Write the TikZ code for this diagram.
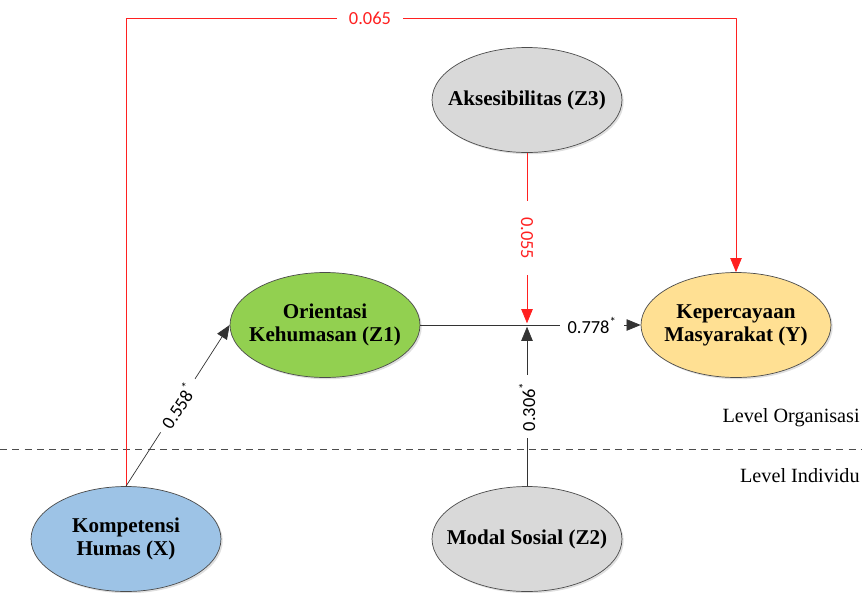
\documentclass[tikz,border=0pt]{standalone}
\usepackage{fontspec}
\setmainfont{Liberation Serif}
\newfontfamily\coeffont{Carlito}
\usetikzlibrary{shapes.geometric,arrows.meta,shadows}

\definecolor{zgray}{HTML}{D9D9D9}
\definecolor{zgreen}{HTML}{92D050}
\definecolor{zyellow}{HTML}{FFE093}
\definecolor{zblue}{HTML}{9DC3E6}
\definecolor{zred}{HTML}{FF2020}

\begin{document}
\begin{tikzpicture}[
        x = 0.02cm, y = -0.02cm,
        line join=round,
        latent/.style = {ellipse, draw=black!70, minimum width=3.8cm, minimum height=2.1cm,
                         inner xsep=-0.5cm, inner ysep=0pt, align=center,
                         font=\fontsize{12}{13}\selectfont\bfseries,
                         drop shadow={opacity=0.25, shadow xshift=1pt, shadow yshift=-1pt}},
        effect/.style = {draw=black!80, -{Triangle[length=8pt, width=6.5pt]}},
        weak/.style = {draw=zred, -{Triangle[length=8pt, width=6.5pt]}},
        coef/.style = {fill=white, inner xsep=4pt, inner ysep=1pt, font=\coeffont\fontsize{10.5}{12}\selectfont},
        level/.style = {anchor=east, inner sep=0pt, font=\fontsize{11.5}{13}\selectfont}
    ]

    \useasboundingbox (0,0) rectangle (862,592);

    % constructs
    \node[latent, fill=zgray]   (Z3) at (527,100) {Aksesibilitas (Z3)};
    \node[latent, fill=zgreen]  (Z1) at (325,325) {Orientasi\\Kehumasan (Z1)};
    \node[latent, fill=zyellow] (Y)  at (736,325) {Kepercayaan\\Masyarakat (Y)};
    \node[latent, fill=zblue]   (X)  at (126,539) {Kompetensi\\Humas (X)};
    \node[latent, fill=zgray]   (Z2) at (527,539) {Modal Sosial (Z2)};

    \coordinate (junc) at (Z3.south |- Z1.east);
    \coordinate (topL) at (X.north |- 0,18);
    \coordinate (topR) at (Y.north |- 0,18);

    % levels
    \coordinate (divL) at (0,449);
    \coordinate (divR) at (862,449);
    \draw[black!70, dash pattern=on 4pt off 3pt] (divL) -- (divR);
    \node[level] (lvorg) at (860,418) {Level Organisasi};
    \node[level] (lvind) at (860,476) {Level Individu};

    % paths
    \draw[weak] (X.north) -- (topL) -- node[coef, text=zred, pos=0.4, inner xsep=7pt] {0.065} (topR) -- (Y.north);
    \draw[weak] (Z3.south) -- node[coef, text=zred, rotate=-90, inner xsep=9pt] {0.055} ([yshift=1pt]junc);
    \draw[effect] (X.north) -- node[coef, sloped] {0.558\textsuperscript{*}} (Z1.west);
    \draw[effect] (Z1.east) -- node[coef, pos=0.78] {0.778\textsuperscript{*}} (Y.west);
    \draw[effect] (Z2.north) -- node[coef, rotate=90] {0.306\textsuperscript{*}} ([yshift=-1pt]junc);

\end{tikzpicture}
\end{document}
